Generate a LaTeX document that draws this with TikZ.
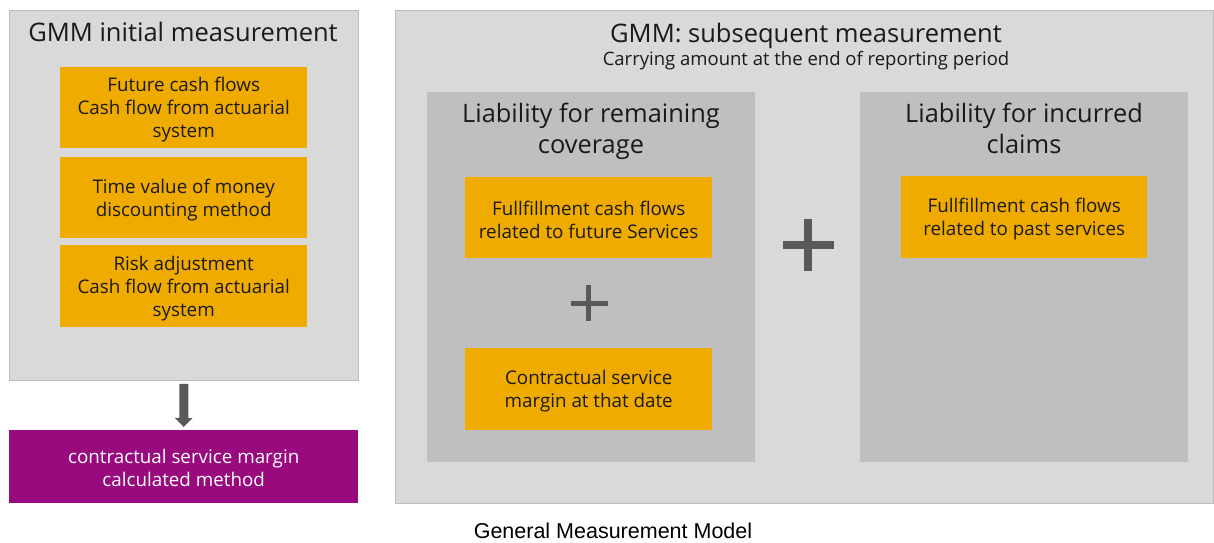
\documentclass[tikz,border=0pt]{standalone}
\usepackage{fontspec}
\setmainfont{Open Sans}
\newfontfamily\capfont{Liberation Sans}
\usetikzlibrary{arrows.meta,calc}
\definecolor{panel}{HTML}{D9D9D9}
\definecolor{panelline}{HTML}{BDBDBD}
\definecolor{inner}{HTML}{BFBFBF}
\definecolor{sapor}{HTML}{F0AB00}
\definecolor{purp}{HTML}{990A7F}
\definecolor{dgray}{HTML}{595959}
\definecolor{txt}{HTML}{1A1A1A}
\tikzset{
  panelbox/.style={draw=panelline, line width=0.8pt, fill=panel, anchor=north west, inner sep=0pt},
  innerbox/.style={fill=inner, anchor=north west, inner sep=0pt},
  orbox/.style={fill=sapor, anchor=north west, inner sep=0pt, minimum width=247pt, minimum height=81pt},
  ortext/.style={align=center, text=txt, yshift=-2pt, font=\fontsize{18.8}{23}\selectfont},
  bigtitle/.style={align=center, text=txt, anchor=base, font=\fontsize{25.5}{31}\selectfont},
  plusline/.style={draw=dgray},
}
\begin{document}
\begin{tikzpicture}[x=1pt,y=-1pt]
\useasboundingbox (0,0) rectangle (1214,542);
% left panel
\node[panelbox, minimum width=349pt, minimum height=370pt] (left) at (9,10) {};
\node[bigtitle] (lefttitle) at (183,41) {GMM initial measurement};
\node[orbox] (fcf) at (60,67) {};
\node[ortext] at (fcf.center) {Future cash flows\\Cash flow from actuarial\\system};
\node[orbox] (tvm) at (60,157) {};
\node[ortext] at (tvm.center) {Time value of money\\discounting method};
\node[orbox, minimum height=82pt] (risk) at (60,245) {};
\node[ortext] at (risk.center) {Risk adjustment\\Cash flow from actuarial\\system};
% purple box
\node[fill=purp, anchor=north west, inner sep=0pt, minimum width=349pt, minimum height=73pt] (csm) at (9,430) {};
\node[align=center, text=white, yshift=-1pt, font=\fontsize{18.8}{23}\selectfont] at (csm.center) {contractual service margin\\calculated method};
\draw[dgray, line width=9pt, -{Triangle[width=17pt,length=9pt]}, shorten <=3pt, shorten >=3pt] (left.south) -- (csm.north);
% right panel
\node[panelbox, minimum width=818pt, minimum height=493pt] (right) at (395,10) {};
\node[bigtitle] (righttitle) at (806,42) {GMM: subsequent measurement};
\node[align=center, text=txt, anchor=base, font=\fontsize{18.5}{20}\selectfont] (rightsub) at (806,65) {Carrying amount at the end of reporting period};
% LRC
\node[innerbox, minimum width=328pt, minimum height=370pt] (lrc) at (427,92) {};
\node[bigtitle, font=\fontsize{25.4}{31}\selectfont] (lrctitle) at (591,153) {Liability for remaining\\coverage};
\node[orbox] (fcffut) at (465,177) {};
\node[ortext] at (fcffut.center) {Fullfillment cash flows\\related to future Services};
\node[orbox, minimum height=82pt] (csmdate) at (465,348) {};
\node[ortext] at (csmdate.center) {Contractual service\\margin at that date};
\draw[plusline, line width=5pt] ($(fcffut.south)!0.5!(csmdate.north)+(-18,0)$) -- ++(37,0);
\draw[plusline, line width=5pt] ($(fcffut.south)!0.5!(csmdate.north)+(0,-18)$) -- ++(0,36);
% LIC
\node[innerbox, minimum width=328pt, minimum height=370pt] (lic) at (860,92) {};
\node[bigtitle, font=\fontsize{25.4}{31}\selectfont] (lictitle) at (1024,153) {Liability for incurred\\claims};
\node[orbox, minimum width=246pt, minimum height=82pt] (fcfpast) at (901,176) {};
\node[ortext] at (fcfpast.center) {Fullfillment cash flows\\related to past services};
% big plus
\coordinate (bp) at ($(lrc.east)!0.5!(lic.west)+(0.5,0)$);
\draw[plusline, line width=8pt] ($(bp|-0,245)+(-25.5,0)$) -- ++(51,0);
\draw[plusline, line width=8pt] ($(bp|-0,245)+(0,-26)$) -- ++(0,52);
% caption
\node[text=black, font=\capfont\fontsize{21.5}{24}\selectfont] (caption) at (613,531) {General Measurement Model};
\end{tikzpicture}
\end{document}
